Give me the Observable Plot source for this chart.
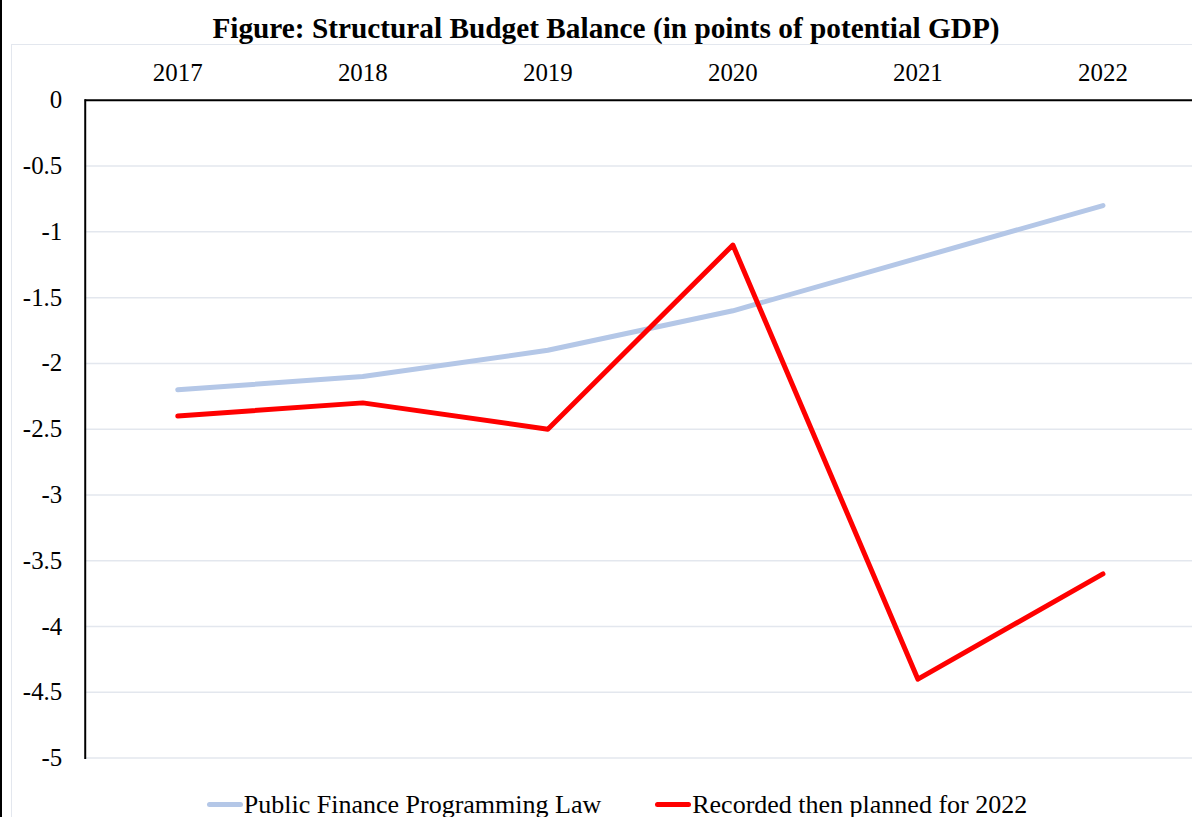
<!DOCTYPE html>
<html>
<head>
<meta charset="utf-8">
<script src="https://cdn.jsdelivr.net/npm/d3@7"></script>
<script src="https://cdn.jsdelivr.net/npm/@observablehq/plot@0.6"></script>
<style>
  html, body { margin: 0; padding: 0; background: #fff; overflow: hidden; }
  #page { position: relative; width: 1192px; height: 817px; overflow: hidden; border-left: 2px solid #000; box-sizing: border-box; }
  #title { position: absolute; left: 0; top: 10px; width: 1208px; text-align: center; font-family: "Liberation Serif", serif; font-weight: bold; font-size: 29.3px; line-height: 36px; color: #000; }
  #box { position: absolute; left: 9px; top: 44px; width: 1300px; height: 900px; border: 1px solid #E3E7EE; }
  #chart { position: absolute; left: -2px; top: 44px; }
  #legend { position: absolute; left: 0; top: 784px; width: 1230px; text-align: center; font-family: "Liberation Serif", serif; font-size: 26px; line-height: 30px; color: #000; white-space: nowrap; }
  .item { display: inline-flex; align-items: center; margin: 0 27px; }
  .sw { display: inline-block; width: 36px; height: 5px; border-radius: 3px; margin-right: 1px; }
</style>
</head>
<body>
<div id="page">
  <div id="box"></div>
  <div id="title">Figure: Structural Budget Balance (in points of potential GDP)</div>
  <div id="chart"></div>
  <div id="legend"></div>
</div>
<script>
const years = ["2017", "2018", "2019", "2020", "2021", "2022"];
const seriesNames = ["Public Finance Programming Law", "Recorded then planned for 2022"];
const lawValues = [-2.2, -2.1, -1.9, -1.6, -1.2, -0.8];
const recordedValues = [-2.4, -2.3, -2.5, -1.1, -4.4, -3.6];
const seriesColors = ["#B4C7E7", "#FF0000"];
const seriesWidths = [5, 5];
const yTicks = [0, -0.5, -1, -1.5, -2, -2.5, -3, -3.5, -4, -4.5, -5];

const data = [];
years.forEach((y, i) => data.push({year: y, value: lawValues[i], series: seriesNames[0]}));
years.forEach((y, i) => data.push({year: y, value: recordedValues[i], series: seriesNames[1]}));

const fmt = d => d === 0 ? "0" : String(d);

const plot = Plot.plot({
  width: 1196,
  height: 729,
  marginLeft: 85,
  marginRight: 0,
  marginTop: 56,
  marginBottom: 13,
  style: {fontFamily: "Liberation Serif, serif", fontSize: "25px", color: "#000", background: "transparent", overflow: "visible"},
  x: {type: "band", domain: years, range: [85, 1199], padding: 0, round: false, label: null},
  y: {domain: [-5, 0], label: null},
  marks: [
    Plot.ruleY(yTicks.filter(d => d !== 0), {stroke: "#E3E7EE", strokeWidth: 1.5}),
    Plot.axisX({anchor: "top", tickSize: 0, tickPadding: 19, label: null, fontSize: 25}),
    Plot.axisY({anchor: "left", ticks: yTicks, tickSize: 0, tickPadding: 23, tickFormat: fmt, label: null, fontSize: 25}),
    Plot.line(data.filter(d => d.series === seriesNames[0]), {x: "year", y: "value", stroke: seriesColors[0], strokeWidth: seriesWidths[0], strokeLinejoin: "round", strokeLinecap: "round"}),
    Plot.line(data.filter(d => d.series === seriesNames[1]), {x: "year", y: "value", stroke: seriesColors[1], strokeWidth: seriesWidths[1], strokeLinejoin: "round", strokeLinecap: "round"}),
    Plot.ruleY([0], {stroke: "#000", strokeWidth: 2}),
    Plot.frame({anchor: "left", stroke: "#000", strokeWidth: 2})
  ]
});
document.getElementById("chart").appendChild(plot);

const legend = document.getElementById("legend");
seriesNames.forEach((name, i) => {
  const item = document.createElement("span");
  item.className = "item";
  const sw = document.createElement("span");
  sw.className = "sw";
  sw.style.background = seriesColors[i];
  item.appendChild(sw);
  item.appendChild(document.createTextNode(name));
  legend.appendChild(item);
});
</script>
</body>
</html>
